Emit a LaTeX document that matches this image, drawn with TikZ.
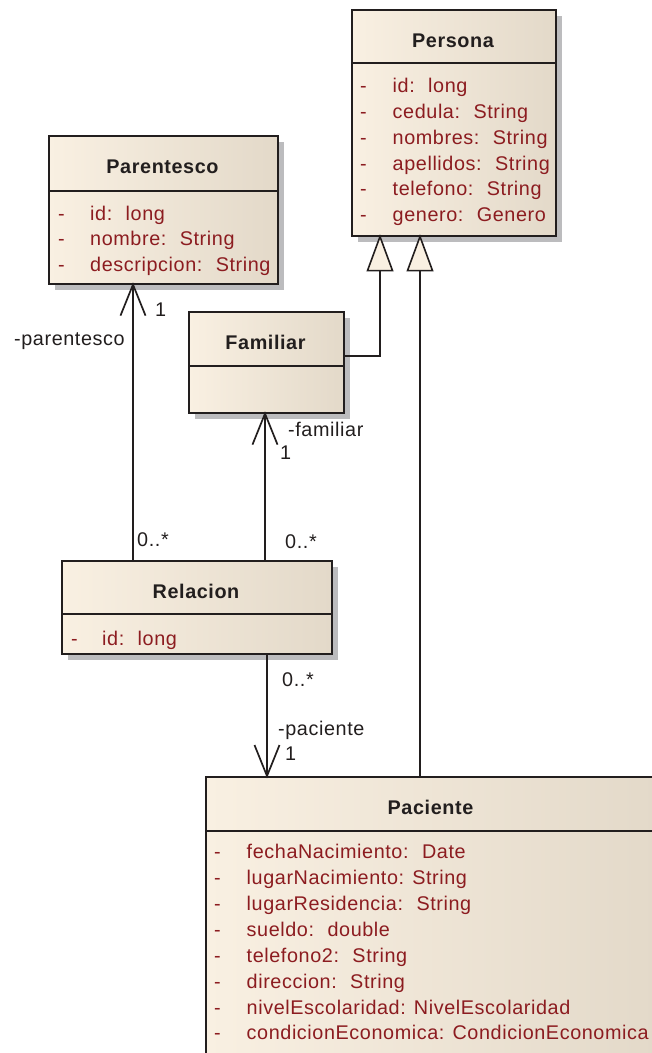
\documentclass[tikz,border=0pt]{standalone}
\usepackage{fontspec}
\setmainfont{Liberation Sans}
\newfontfamily\umlfont[LetterSpace=3]{Liberation Sans}
\usetikzlibrary{calc}
\newcommand\umlsize{\fontsize{19.8bp}{23bp}\selectfont}
% wider gap used after the colon of most attribute lines
\newcommand\wgap{\hspace{0.68em}}
\definecolor{boxleft}{RGB}{249,240,226}
\definecolor{boxright}{RGB}{227,217,201}
\definecolor{shadowgray}{RGB}{188,188,190}
\definecolor{attrred}{RGB}{140,28,32}
\definecolor{ink}{RGB}{34,30,30}
\tikzset{
  classbox/.style={draw=ink, line width=1.6bp, left color=boxleft, right color=boxright,
    inner sep=0pt, anchor=north west,
    preaction={fill=shadowgray, transform canvas={xshift=6bp, yshift=-6bp}}},
  sepline/.style={draw=ink, line width=1.6bp},
  title/.style={anchor=base, inner sep=0pt, text=ink, font=\umlfont\umlsize\bfseries},
  attrdash/.style={anchor=base west, inner sep=0pt, text=attrred, font=\umlfont\umlsize},
  attrtext/.style={anchor=base west, inner sep=0pt, text=attrred, font=\umlfont\umlsize},
  rolelabel/.style={anchor=base west, inner sep=0pt, text=ink, font=\umlfont\umlsize},
  link/.style={draw=ink, line width=1.7bp},
  gentri/.style={draw=ink, line width=1.6bp, fill=boxleft, line join=miter},
}
\begin{document}
\begin{tikzpicture}[x=1bp, y=-1bp]
\useasboundingbox (0,0) rectangle (652,1053);
\clip (0,0) rectangle (652,1053);

% ---------- classes ----------
\node[classbox, minimum width=204bp, minimum height=226bp] (persona) at (351,9) {};
\draw[sepline] ([yshift=-54bp]persona.north west) -- ([yshift=-54bp]persona.north east);
\node[title] (persona-t) at (453,47) {Persona};
\foreach \t [count=\i from 0] in {id:\wgap long, cedula:\wgap String, nombres:\wgap String, apellidos:\wgap String, telefono:\wgap String, genero:\wgap Genero} {
  \node[attrdash] (persona-d\i) at (360,{92.3+25.9*\i}) {-};
  \node[attrtext] (persona-a\i) at (392.5,{92.3+25.9*\i}) {\t};
}

\node[classbox, minimum width=229bp, minimum height=148bp] (parentesco) at (48,135) {};
\draw[sepline] ([yshift=-56bp]parentesco.north west) -- ([yshift=-56bp]parentesco.north east);
\node[title] (parentesco-t) at (162.5,173.3) {Parentesco};
\foreach \t [count=\i from 0] in {id:\wgap long, nombre:\wgap String, descripcion:\wgap String} {
  \node[attrdash] (parentesco-d\i) at (58,{220+25.9*\i}) {-};
  \node[attrtext] (parentesco-a\i) at (90,{220+25.9*\i}) {\t};
}

\node[classbox, minimum width=155bp, minimum height=101bp] (familiar) at (188,311) {};
\draw[sepline] ([yshift=-55bp]familiar.north west) -- ([yshift=-55bp]familiar.north east);
\node[title] (familiar-t) at (265.5,349.3) {Familiar};

\node[classbox, minimum width=270bp, minimum height=93bp] (relacion) at (61,560) {};
\draw[sepline] ([yshift=-54bp]relacion.north west) -- ([yshift=-54bp]relacion.north east);
\node[title] (relacion-t) at (196,598.3) {Relacion};
\node[attrdash] (relacion-d0) at (71,645) {-};
\node[attrtext] (relacion-a0) at (102,645) {id:\wgap long};

\node[classbox, minimum width=452bp, minimum height=300bp] (paciente) at (205,776) {};
\draw[sepline] ([yshift=-55bp]paciente.north west) -- ([yshift=-55bp]paciente.north east);
\node[title] (paciente-t) at (430.5,814) {Paciente};
\foreach \t [count=\i from 0] in {fechaNacimiento:\wgap Date, lugarNacimiento: String, lugarResidencia:\wgap String, sueldo:\wgap double, telefono2:\wgap String, direccion:\wgap String, nivelEscolaridad: NivelEscolaridad, condicionEconomica: CondicionEconomica} {
  \node[attrdash] (paciente-d\i) at (214,{858.3+25.95*\i}) {-};
  \node[attrtext] (paciente-a\i) at (246.5,{858.3+25.95*\i}) {\t};
}

% ---------- generalizations to Persona ----------
\coordinate (g1tip) at ([xshift=29bp]persona.south west);
\coordinate (g2tip) at ([xshift=69bp]persona.south west);
\coordinate (g1base) at ($(g1tip)+(0,34)$);
\coordinate (g2base) at ($(g2tip)+(0,34)$);
\draw[link] ([yshift=6.5bp]familiar.east) -| (g1base);
\draw[link] (g2base) -- (g2base |- paciente.north);
\draw[gentri] (g1tip) -- ++(-12.5,34) -- ++(25,0) -- cycle;
\draw[gentri] (g2tip) -- ++(-12.5,34) -- ++(25,0) -- cycle;

% ---------- associations ----------
% Relacion -> Parentesco
\coordinate (r1) at ([xshift=72bp]relacion.north west);
\coordinate (t1) at (r1 |- parentesco.south);
\draw[link] (r1) -- (t1);
\draw[link] ($(t1)+(-12.5,31)$) -- (t1) -- ++(12.5,31);
\node[rolelabel] (m1a) at (155,316.7) {1};
\node[rolelabel] (m1b) at (14,345) {-parentesco};
\node[rolelabel] (m1c) at (137,546.7) {0..*};

% Relacion -> Familiar
\coordinate (r2) at ([xshift=204bp]relacion.north west);
\coordinate (t2) at (r2 |- familiar.south);
\draw[link] (r2) -- (t2);
\draw[link] ($(t2)+(-12.5,31)$) -- (t2) -- ++(12.5,31);
\node[rolelabel] (m2a) at (288,436.7) {-familiar};
\node[rolelabel] (m2b) at (280,459.3) {1};
\node[rolelabel] (m2c) at (285,548.3) {0..*};

% Relacion -> Paciente
\coordinate (r3) at ([xshift=206bp]relacion.south west);
\coordinate (t3) at (r3 |- paciente.north);
\draw[link] (r3) -- (t3);
\draw[link] ($(t3)+(-12.5,-31)$) -- (t3) -- ++(12.5,-31);
\node[rolelabel] (m3a) at (282,686.7) {0..*};
\node[rolelabel] (m3b) at (278,735) {-paciente};
\node[rolelabel] (m3c) at (285,760) {1};
\end{tikzpicture}
\end{document}
